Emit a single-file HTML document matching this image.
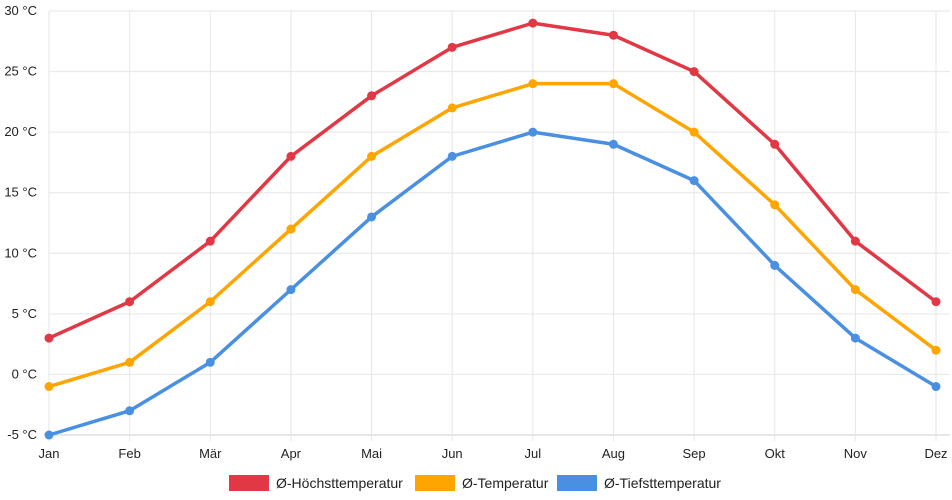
<!DOCTYPE html>
<html><head><meta charset="utf-8">
<style>
html,body{margin:0;padding:0;background:#fff;}
svg{display:block;font-family:"Liberation Sans",sans-serif;}
</style></head>
<body>
<svg id="chart" width="952" height="500" viewBox="0 0 952 500" xmlns="http://www.w3.org/2000/svg">
<g id="grid"></g>
<g id="yaxis"></g>
<g id="xaxis"></g>
<g id="series"></g>
<g id="legend"></g>
</svg>
<script>
const months = ["Jan","Feb","Mär","Apr","Mai","Jun","Jul","Aug","Sep","Okt","Nov","Dez"];
const highTemps = [3,6,11,18,23,27,29,28,25,19,11,6];
const meanTemps = [-1,1,6,12,18,22,24,24,20,14,7,2];
const lowTemps = [-5,-3,1,7,13,18,20,19,16,9,3,-1];
const yTicks = [-5,0,5,10,15,20,25,30];
const seriesNames = ["Ø-Höchsttemperatur","Ø-Temperatur","Ø-Tiefsttemperatur"];

const NS="http://www.w3.org/2000/svg";
const X0=49,X1=936,Y0=435,Y1=11,YMIN=-5,YMAX=30;
const xs=i=>X0+(X1-X0)*i/(months.length-1);
const ys=v=>Y0-(v-YMIN)/(YMAX-YMIN)*(Y0-Y1);
function mk(tag,attrs,parent){const e=document.createElementNS(NS,tag);for(const k in attrs)e.setAttribute(k,attrs[k]);parent.appendChild(e);return e;}
const grid=document.getElementById('grid'),ya=document.getElementById('yaxis'),xa=document.getElementById('xaxis'),sg=document.getElementById('series'),lg=document.getElementById('legend');

yTicks.forEach(t=>{
  const l=mk('line',{x1:X0,x2:X1+14,y1:ys(t),y2:ys(t),stroke:t===YMIN?'#cfcfcf':'#e6e6e6','stroke-width':1},grid);
  
  
  const tx=mk('text',{x:37,y:ys(t)+4,'text-anchor':'end','font-size':13,fill:'#222'},ya);
  tx.textContent=t+' °C';
  
  
});
months.forEach((m,i)=>{
  const l=mk('line',{x1:xs(i),x2:xs(i),y1:Y1,y2:Y0+6,stroke:'#e6e6e6','stroke-width':1},grid);
  
  
  const tx=mk('text',{x:xs(i),y:458,'text-anchor':'middle','font-size':13,fill:'#222'},xa);
  tx.textContent=m;
  
  
});

const data=[highTemps,meanTemps,lowTemps];
const colors=['#e23744','#ffa500','#4a90e2'];
const keys=['high','mean','low'];
data.forEach((arr,s)=>{
  const g=mk('g',{},sg);
  
  
  const pts=arr.map((v,i)=>xs(i)+','+ys(v)).join(' ');
  const pl=mk('polyline',{points:pts,fill:'none',stroke:colors[s],'stroke-width':3.5,'stroke-linejoin':'round'},g);
  
  
  arr.forEach((v,i)=>{
    const c=mk('circle',{cx:xs(i),cy:ys(v),r:4.5,fill:colors[s]},g);
    
    
  });
});

const legX=[229,415,557];
seriesNames.forEach((n,s)=>{
  const g=mk('g',{},lg);
  
  
  mk('rect',{x:legX[s],y:475,width:40,height:16,fill:colors[s]},g);
  const t=mk('text',{x:legX[s]+47,y:488,'font-size':14,fill:'#222'},g);
  t.textContent=n;
});
</script>
</body></html>
